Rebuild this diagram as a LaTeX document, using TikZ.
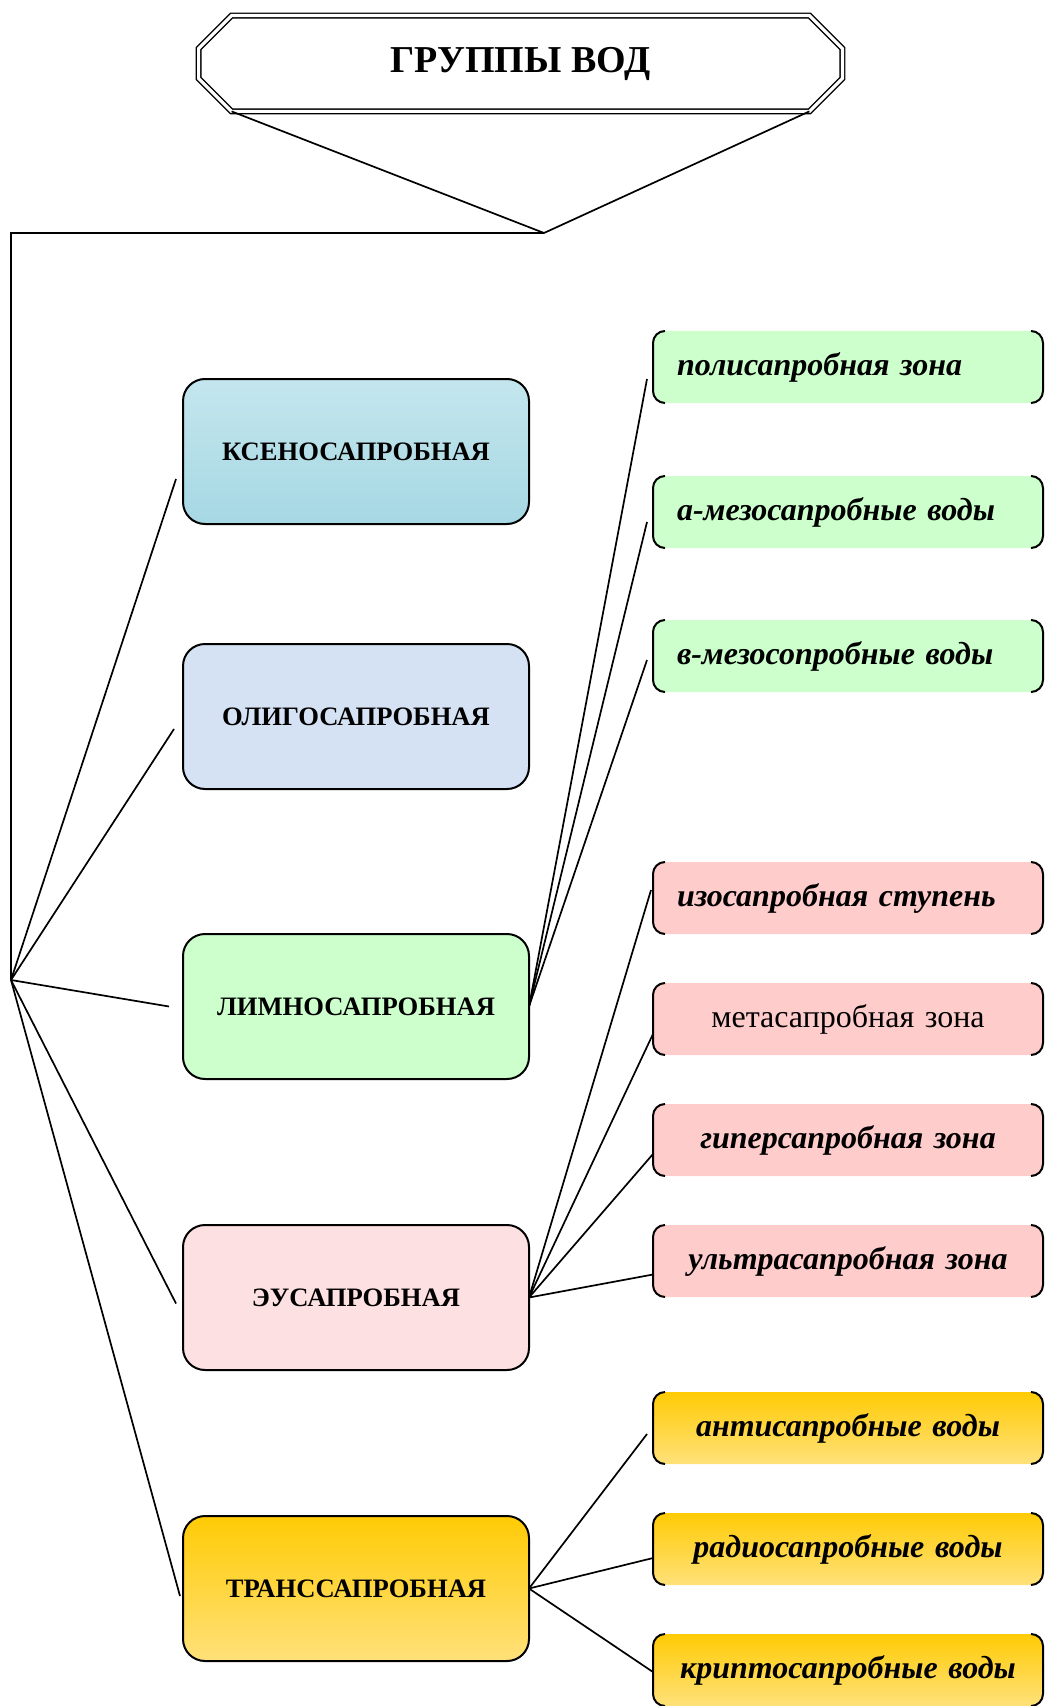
\documentclass[tikz,border=0pt]{standalone}
\usepackage{fontspec}
\setmainfont{Liberation Serif}
\usepackage{tikz}
\usetikzlibrary{positioning,calc}

\definecolor{ksaqua}{HTML}{A6D8E3}
\definecolor{ksaqualt}{HTML}{C4E6EE}
\definecolor{olblue}{HTML}{D5E2F3}
\definecolor{lmgreen}{HTML}{CCFFCC}
\definecolor{eupink}{HTML}{FDE0E1}
\definecolor{zpink}{HTML}{FFCCCC}
\definecolor{trgold}{HTML}{FFCB05}
\definecolor{trgoldlt}{HTML}{FFE17A}

\newcommand\brkt[1]{%
 \draw[line width=1pt,rounded corners=6pt] ([xshift=6pt]#1.north west) -- (#1.north west) -- (#1.south west) -- ([xshift=6pt]#1.south west);
 \draw[line width=1pt,rounded corners=6pt] ([xshift=-6pt]#1.north east) -- (#1.north east) -- (#1.south east) -- ([xshift=-6pt]#1.south east);}

\begin{document}
\begin{tikzpicture}[x=1pt,y=1pt,
 grp/.style={draw,line width=1pt,outer sep=0pt,rounded corners=11pt,minimum width=173pt,minimum height=72.5pt,align=center,font=\fontsize{13.3}{16}\selectfont\bfseries},
 zone/.style={outer sep=0pt,rounded corners=6pt,minimum width=195pt,minimum height=36pt,text width=171pt,inner xsep=12pt,align=center,font=\fontsize{16}{19}\selectfont\bfseries\itshape},
 ln/.style={line width=0.85pt}]
 \useasboundingbox (0,0) rectangle (522.5,-853);
 \node[minimum width=321.5pt,minimum height=47.5pt,font=\fontsize{19}{22}\selectfont\bfseries] (t) at (260.25,-31.75) {ГРУППЫ ВОД};
 \draw[double,double distance=1.6pt,line width=0.7pt] ([xshift=16.5pt]t.north west) -- ([xshift=-16.5pt]t.north east) -- ([yshift=-16.5pt]t.north east) -- ([yshift=16.5pt]t.south east) -- ([xshift=-16.5pt]t.south east) -- ([xshift=16.5pt]t.south west) -- ([yshift=16.5pt]t.south west) -- ([yshift=-16.5pt]t.north west) -- cycle;
 \coordinate (j) at (272,-116.5);
 \coordinate (c) at (5.5,-116.5);
 \coordinate (h) at (5.5,-490);
 \draw[ln] ([xshift=16.5pt]t.south west) -- (j) -- ([xshift=-16.5pt]t.south east);
 \draw[ln] (j) -- (c) -- (h);

 \node[grp,top color=ksaqualt,bottom color=ksaqua] (ks) at (178,-225.75) {КСЕНОСАПРОБНАЯ};
 \node[grp,fill=olblue,below=60pt of ks] (ol) {ОЛИГОСАПРОБНАЯ};
 \node[grp,fill=lmgreen,below=72.5pt of ol] (lm) {ЛИМНОСАПРОБНАЯ};
 \node[grp,fill=eupink,below=73pt of lm] (eu) {ЭУСАПРОБНАЯ};
 \node[grp,top color=trgold,bottom color=trgoldlt,below=73pt of eu] (tr) {ТРАНССАПРОБНАЯ};

 \node[zone,fill=lmgreen,align=left] (z1) at (424,-183.5) {полисапробная зона};
 \node[zone,fill=lmgreen,align=left,below=36.5pt of z1] (z2) {а-мезосапробные воды};
 \node[zone,fill=lmgreen,align=left,below=36pt of z2] (z3) {в-мезосопробные воды};
 \node[zone,fill=zpink,align=left,below=85pt of z3] (z4) {изосапробная ступень};
 \node[zone,fill=zpink,font=\fontsize{16}{19}\selectfont,below=24.5pt of z4] (z5) {метасапробная зона};
 \node[zone,fill=zpink,below=24.5pt of z5] (z6) {гиперсапробная зона};
 \node[zone,fill=zpink,below=24.5pt of z6] (z7) {ультрасапробная зона};
 \node[zone,top color=trgold,bottom color=trgoldlt,below=47.5pt of z7] (z8) {антисапробные воды};
 \node[zone,top color=trgold,bottom color=trgoldlt,below=24.5pt of z8] (z9) {радиосапробные воды};
 \node[zone,top color=trgold,bottom color=trgoldlt,below=24.5pt of z9] (z10) {криптосапробные воды};
 \foreach \z in {z1,z2,z3,z4,z5,z6,z7,z8,z9,z10} {\brkt{\z}}

 \draw[ln] (h) -- ([xshift=-3.5pt,yshift=-13.75pt]ks.west);
 \draw[ln] (h) -- ([xshift=-4.5pt,yshift=-6.25pt]ol.west);
 \draw[ln] (h) -- ([xshift=-7pt]lm.west);
 \draw[ln] (h) -- ([xshift=-3.5pt,yshift=-3pt]eu.west);
 \draw[ln] (h) -- ([xshift=-1.5pt,yshift=-3.75pt]tr.west);

 \draw[ln] (lm.east) -- ([xshift=-3pt,yshift=-6pt]z1.west);
 \draw[ln] (lm.east) -- ([xshift=-3pt,yshift=-5pt]z2.west);
 \draw[ln] (lm.east) -- ([xshift=-3pt,yshift=-2pt]z3.west);
 \draw[ln] (eu.east) -- ([xshift=-1pt,yshift=4pt]z4.west);
 \draw[ln] (eu.east) -- ([yshift=-7.5pt]z5.west);
 \draw[ln] (eu.east) -- ([yshift=-7pt]z6.west);
 \draw[ln] (eu.east) -- ([yshift=-6.75pt]z7.west);
 \draw[ln] (tr.east) -- ([xshift=-3pt,yshift=-3pt]z8.west);
 \draw[ln] (tr.east) -- ([yshift=-4.5pt]z9.west);
 \draw[ln] (tr.east) -- ([yshift=-1pt]z10.west);
\end{tikzpicture}
\end{document}
